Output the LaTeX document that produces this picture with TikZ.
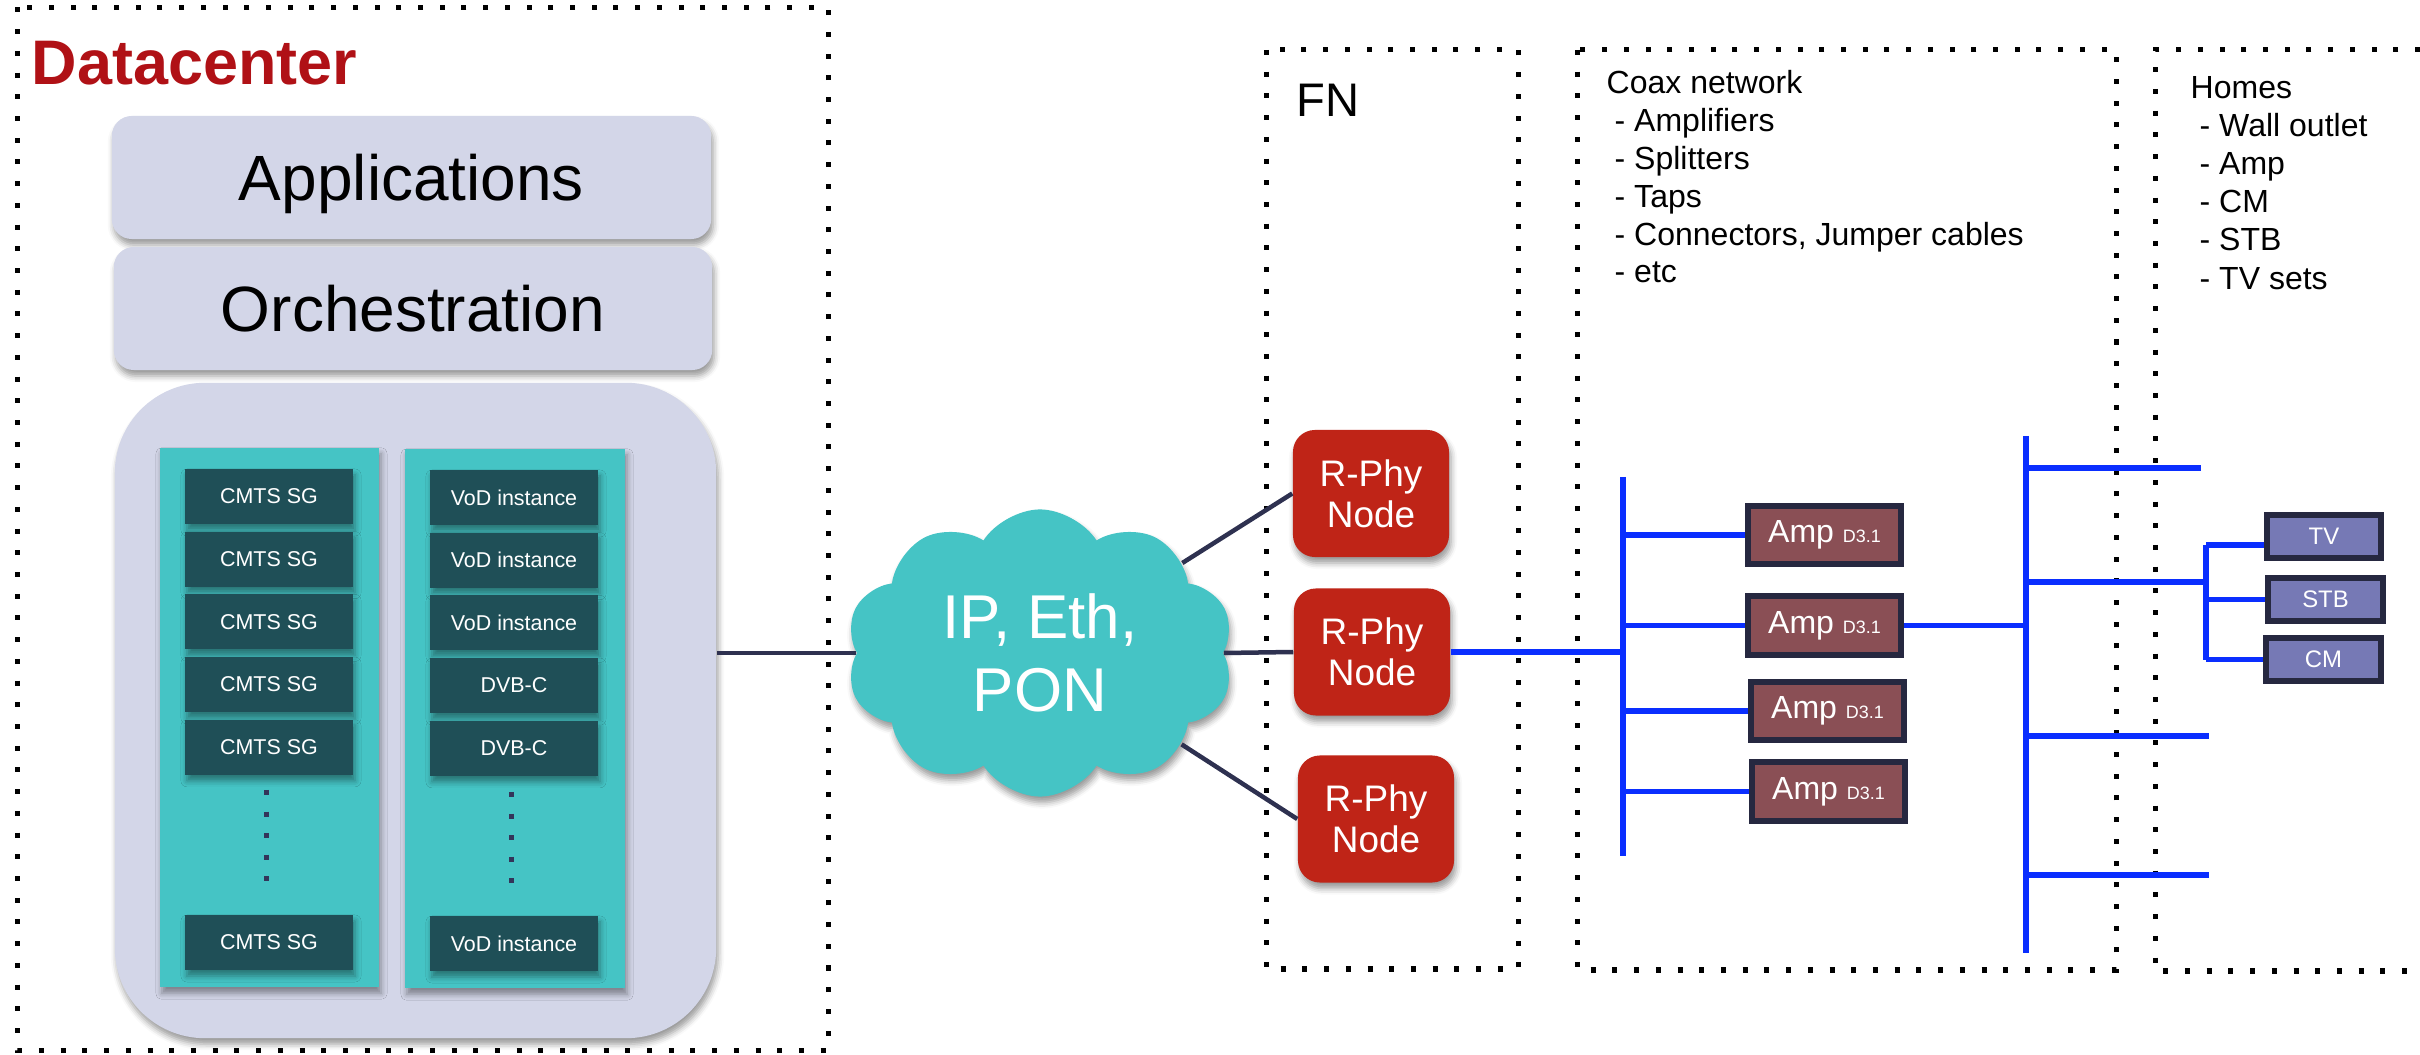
\documentclass[tikz,border=0pt]{standalone}
\usepackage{fontspec}
\setmainfont{Liberation Sans}
\usetikzlibrary{shapes.symbols,shadows.blur}
\definecolor{lav}{HTML}{D3D6E8}
\definecolor{cteal}{HTML}{45C4C5}
\definecolor{dteal}{HTML}{1F4F57}
\definecolor{dcred}{HTML}{B01116}
\definecolor{rphyc}{HTML}{BF2417}
\definecolor{navyc}{HTML}{2E3150}
\definecolor{dotc}{HTML}{33355A}
\definecolor{ampc}{HTML}{8A4F55}
\definecolor{bordc}{HTML}{262840}
\definecolor{homec}{HTML}{7679B5}
\definecolor{bblue}{HTML}{0A2EFF}
\tikzset{
  dotbox/.style={draw=black, line width=0.05cm, dash pattern=on 0.05cm off 0.167cm},
  shad/.style={blur shadow={shadow xshift=0.02cm, shadow yshift=-0.06cm, shadow blur radius=0.06cm}},
  lavbox/.style={fill=lav, rounded corners=0.2cm, shad, inner sep=0pt},
  tealcol/.style={fill=cteal, shad, inner sep=0pt},
  dkbox/.style={fill=dteal, shad, inner sep=0pt, minimum width=1.68cm, minimum height=0.55cm, text=white, font=\fontsize{6.1}{7}\selectfont},
  rphy/.style={fill=rphyc, rounded corners=0.22cm, shad, inner sep=0pt, minimum width=1.56cm, minimum height=1.27cm, text=white, align=center, font=\fontsize{10.5}{11.7}\selectfont},
  ampbox/.style={fill=ampc, draw=bordc, line width=0.06cm, inner sep=0pt, minimum width=1.53cm, minimum height=0.58cm, text=white, font=\fontsize{9.1}{11}\selectfont},
  homebox/.style={fill=homec, draw=bordc, line width=0.06cm, inner sep=0pt, minimum width=1.14cm, minimum height=0.43cm, text=white, font=\fontsize{6.8}{8}\selectfont},
  navyl/.style={draw=navyc, line width=0.045cm},
  bluel/.style={draw=bblue, line width=0.055cm},
  lbl/.style={anchor=base west, inner sep=0pt, font=\fontsize{9.1}{11}\selectfont},
  vdots/.style={draw=dotc, line width=0.05cm, dash pattern=on 0.05cm off 0.165cm}
}
\newcommand{\sm}[1]{{\fontsize{5.1}{6}\selectfont #1}}
\begin{document}
\begin{tikzpicture}[x=0.01cm,y=-0.01cm]
\useasboundingbox (0,0) rectangle (2420,1055);
% dotted regions
\draw[dotbox] (17.5,7.5) rectangle (828,1050);
\draw[dotbox] (1266,50) rectangle (1518,969);
\draw[dotbox] (1577,50) rectangle (2116,970);
\draw[dotbox] (2420,50) -- (2155,50) -- (2155,971) -- (2420,971);
% titles
\node[anchor=base west, inner sep=0pt, text=dcred, font=\fontsize{17.9}{21}\selectfont\bfseries] (dct) at (31,85) {Datacenter};
\node[anchor=base west, inner sep=0pt, font=\fontsize{13.4}{16}\selectfont] (fnt) at (1296,117) {FN};
\node[lbl] (cx0) at (1606,94) {Coax network};
\node[lbl] (cx1) at (1614,131.8) {- Amplifiers};
\node[lbl] (cx2) at (1614,169.6) {- Splitters};
\node[lbl] (cx3) at (1614,207.4) {- Taps};
\node[lbl] (cx4) at (1614,245.2) {- Connectors, Jumper cables};
\node[lbl] (cx5) at (1614,283) {- etc};
\node[lbl] (hm0) at (2190,99) {Homes};
\node[lbl] (hm1) at (2199,137) {- Wall outlet};
\node[lbl] (hm2) at (2199,175) {- Amp};
\node[lbl] (hm3) at (2199,213) {- CM};
\node[lbl] (hm4) at (2199,251) {- STB};
\node[lbl] (hm5) at (2199,290) {- TV sets};
% datacenter stack
\node[lavbox, minimum width=5.99cm, minimum height=1.23cm, text depth=0pt, font=\fontsize{18.2}{21}\selectfont] (apps) at (411.5,177.5) {Applications};
\node[lavbox, minimum width=5.98cm, minimum height=1.23cm, font=\fontsize{18.2}{21}\selectfont] (orch) at (413,308.5) {Orchestration};
\node[fill=lav, rounded corners=0.9cm, shad, inner sep=0pt, minimum width=6.01cm, minimum height=6.55cm] (bigbox) at (415.5,710.5) {};
\node[tealcol, minimum width=2.19cm, minimum height=5.39cm] (colL) at (269.5,717.5) {};
\node[tealcol, minimum width=2.20cm, minimum height=5.39cm] (colR) at (515,718.5) {};
\node[dkbox] (c1) at (269,496.5) {CMTS SG};
\node[dkbox] (c2) at (269,559.2) {CMTS SG};
\node[dkbox] (c3) at (269,621.9) {CMTS SG};
\node[dkbox] (c4) at (269,684.6) {CMTS SG};
\node[dkbox] (c5) at (269,747.3) {CMTS SG};
\node[dkbox] (c6) at (269,942.5) {CMTS SG};
\node[dkbox] (v1) at (514,497.5) {VoD instance};
\node[dkbox] (v2) at (514,560.2) {VoD instance};
\node[dkbox] (v3) at (514,622.9) {VoD instance};
\node[dkbox] (v4) at (514,685.6) {DVB-C};
\node[dkbox] (v5) at (514,748.3) {DVB-C};
\node[dkbox] (v6) at (514,943.5) {VoD instance};
\draw[vdots] (266,790) -- (266,885);
\draw[vdots] (511,792) -- (511,887);
% cloud
\node[cloud, cloud puffs=10, cloud puff arc=115, aspect=1.35, fill=cteal, shad, inner sep=0pt,
  minimum width=3.88cm, minimum height=2.87cm, text=white, align=center,
  font=\fontsize{17.6}{20.8}\selectfont] (cloud) at (1040,653) {IP, Eth,\\PON};
% R-Phy nodes
\node[rphy] (rp1) at (1371,493.5) {R-Phy\\Node};
\node[rphy] (rp2) at (1372,652) {R-Phy\\Node};
\node[rphy] (rp3) at (1376,819) {R-Phy\\Node};
\draw[navyl] (bigbox.east |- cloud.west) -- (cloud.west);
\draw[navyl] (cloud) -- (rp1.west);
\draw[navyl] (cloud.east) -- (rp2.west);
\draw[navyl] (cloud) -- (rp3.west);
% amps
\node[ampbox] (amp1) at (1824.5,535) {Amp \sm{D3.1}};
\node[ampbox] (amp2) at (1824.5,625.5) {Amp \sm{D3.1}};
\node[ampbox] (amp3) at (1827.5,711) {Amp \sm{D3.1}};
\node[ampbox] (amp4) at (1828.5,791.5) {Amp \sm{D3.1}};
% home devices
\node[homebox] (tv) at (2324,536.5) {TV};
\node[homebox] (stb) at (2325.5,599.5) {STB};
\node[homebox] (cm) at (2323.5,659.5) {CM};
% coax wiring
\coordinate (b1t) at (1623,477);
\coordinate (b1b) at (1623,856);
\coordinate (b2t) at (2026,436);
\coordinate (b2b) at (2026,953);
\coordinate (h1) at (2201,468);
\coordinate (h3) at (2209,736);
\coordinate (h4) at (2209,875);
\coordinate (spm) at (2206,582);
\coordinate (st) at (2206,545);
\coordinate (sb) at (2206,660);
\draw[bluel] (rp2.east) -- (rp2.east -| b1t);
\draw[bluel] (b1t) -- (b1b);
\draw[bluel] (amp1.west -| b1t) -- (amp1.west);
\draw[bluel] (amp2.west -| b1t) -- (amp2.west);
\draw[bluel] (amp3.west -| b1t) -- (amp3.west);
\draw[bluel] (amp4.west -| b1t) -- (amp4.west);
\draw[bluel] (amp2.east) -- (amp2.east -| b2t);
\draw[bluel] (b2t) -- (b2b);
\draw[bluel] (b2t |- h1) -- (h1);
\draw[bluel] (b2t |- spm) -- (spm);
\draw[bluel] (b2t |- h3) -- (h3);
\draw[bluel] (b2t |- h4) -- (h4);
\draw[bluel] (st) -- (sb);
\draw[bluel] (st) -- (tv.west |- st);
\draw[bluel] (stb.west -| st) -- (stb.west);
\draw[bluel] (cm.west -| st) -- (cm.west);
\end{tikzpicture}
\end{document}
